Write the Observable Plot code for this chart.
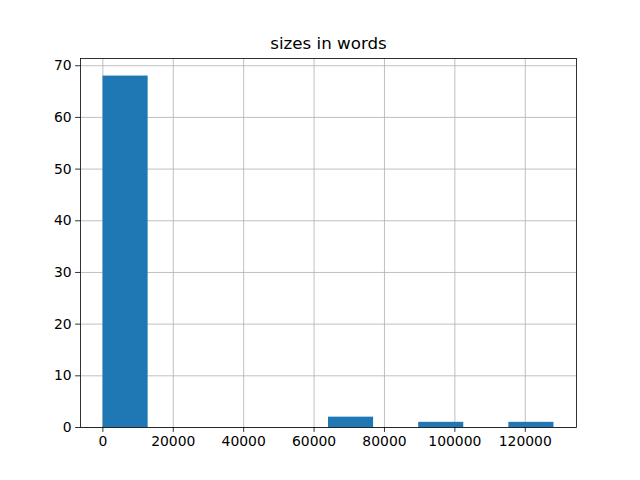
<!DOCTYPE html>
<html>
<head>
<meta charset="utf-8">
<script src="https://cdn.jsdelivr.net/npm/d3@7"></script>
<script src="https://cdn.jsdelivr.net/npm/@observablehq/plot@0.6"></script>
<style>
  html, body { margin: 0; padding: 0; background: #fff; }
  #chart svg { display: block; }
</style>
</head>
<body>
<div id="chart"></div>
<script>
// Histogram of sizes in words: 10 equal bins from min to max
const binStart = 50;
const binEnd = 128150;
const counts = [68, 0, 0, 0, 0, 2, 0, 1, 0, 1];
const xTicks = [0, 20000, 40000, 60000, 80000, 100000, 120000];
const yTicks = [0, 10, 20, 30, 40, 50, 60, 70];
const title = "sizes in words";

const binW = (binEnd - binStart) / counts.length;
const bins = counts.map((c, i) => ({
  x1: binStart + i * binW,
  x2: binStart + (i + 1) * binW,
  count: c
}));
const xPad = (binEnd - binStart) * 0.05;
const yMax = d3.max(counts) * 1.05;

const font = "'DejaVu Sans', sans-serif";
const chart = Plot.plot({
  width: 640,
  height: 480,
  marginLeft: 80,
  marginRight: 64,
  marginTop: 58,
  marginBottom: 53,
  style: { fontFamily: font, fontSize: "13.9px", color: "#000", background: "#fff" },
  x: { domain: [binStart - xPad, binEnd + xPad] },
  y: { domain: [0, yMax] },
  marks: [
    Plot.gridX(xTicks, { stroke: "#b0b0b0", strokeOpacity: 1, strokeWidth: 0.8 }),
    Plot.gridY(yTicks, { stroke: "#b0b0b0", strokeOpacity: 1, strokeWidth: 0.8 }),
    Plot.rectY(bins, { x1: "x1", x2: "x2", y: "count", fill: "#1f77b4", inset: 0 }),
    Plot.frame({ stroke: "#000", strokeWidth: 0.8 }),
    Plot.axisX(xTicks, { tickFormat: d => String(d), tickSize: 4.9, tickPadding: 4, strokeWidth: 0.8, label: null, fontSize: 13.9 }),
    Plot.axisY(yTicks, { tickFormat: d => String(d), tickSize: 4.9, tickPadding: 4, strokeWidth: 0.8, label: null, fontSize: 13.9 }),
    Plot.text([title], { frameAnchor: "top", dy: -10, lineAnchor: "bottom", fontSize: 16.7, fill: "#000" })
  ]
});
document.getElementById("chart").appendChild(chart);
</script>
</body>
</html>
